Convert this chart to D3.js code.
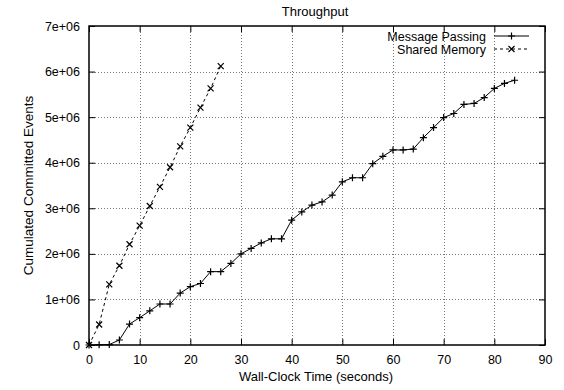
<!DOCTYPE html>
<html>
<head>
<meta charset="utf-8">
<script src="https://cdn.jsdelivr.net/npm/d3@7"></script>
<style>
  body { margin: 0; background: #fff; }
  text { font-family: "Liberation Sans", Arial, sans-serif; font-size: 12.5px; fill: #000; }
</style>
</head>
<body>
<div id="chart"></div>
<script>
// wall-clock seconds, sampled every 2 s
const mpTimes = d3.range(0, 85, 2);
const mpValues = [0, 5000, 10000, 110000, 460000, 600000, 750000, 900000, 900000, 1140000,
    1280000, 1350000, 1610000, 1610000, 1790000, 2000000, 2120000, 2240000, 2330000, 2330000,
    2740000, 2920000, 3070000, 3140000, 3290000, 3580000, 3670000, 3670000, 3980000, 4140000,
    4280000, 4280000, 4300000, 4550000, 4770000, 4990000, 5080000, 5280000, 5300000, 5430000,
    5630000, 5740000, 5810000];
const smTimes = d3.range(0, 27, 2);
const smValues = [0, 450000, 1330000, 1740000, 2210000, 2620000, 3050000, 3470000, 3900000,
    4360000, 4770000, 5210000, 5630000, 6120000];
const xTicks = d3.range(0, 91, 10);
const yTicks = d3.range(0, 7000001, 1000000);
const yTickLabels = ['0', '1e+06', '2e+06', '3e+06', '4e+06', '5e+06', '6e+06', '7e+06'];
const seriesNames = ['Message Passing', 'Shared Memory'];

const width = 564, height = 390;
const margin = { left: 89, right: 19, top: 26, bottom: 45 };

const svg = d3.select('#chart')
    .append('svg')
    .attr('width', width)
    .attr('height', height);

const x = d3.scaleLinear().domain([0, 90]).range([margin.left, width - margin.right]);
const y = d3.scaleLinear().domain([0, 7000000]).range([height - margin.bottom, margin.top]);

// grid
const grid = svg.append('g')
    .attr('stroke', '#777')
    .attr('stroke-width', 1)
    .attr('stroke-dasharray', '1,2');
grid.selectAll('line.gx')
    .data(xTicks.slice(1, -1))
    .enter().append('line')
    .attr('x1', d => Math.round(x(d)) + 0.5)
    .attr('x2', d => Math.round(x(d)) + 0.5)
    .attr('y1', y(0))
    .attr('y2', y(7000000));
grid.selectAll('line.gy')
    .data(yTicks.slice(1, -1))
    .enter().append('line')
    .attr('x1', x(0))
    .attr('x2', x(90))
    .attr('y1', d => Math.round(y(d)) + 0.5)
    .attr('y2', d => Math.round(y(d)) + 0.5);

// axes with inward ticks, mirrored
const tickLen = 6;
const axBottom = svg.append('g')
    .attr('transform', `translate(0,${y(0)})`)
    .call(d3.axisBottom(x).tickValues(xTicks).tickSizeInner(-tickLen).tickSizeOuter(0).tickPadding(10));
const axTop = svg.append('g')
    .attr('transform', `translate(0,${y(7000000)})`)
    .call(d3.axisTop(x).tickValues(xTicks).tickSizeInner(-tickLen).tickSizeOuter(0).tickFormat(''));
const axLeft = svg.append('g')
    .attr('transform', `translate(${x(0)},0)`)
    .call(d3.axisLeft(y).tickValues(yTicks).tickSizeInner(-tickLen).tickSizeOuter(0).tickPadding(9)
        .tickFormat((d, i) => yTickLabels[i]));
const axRight = svg.append('g')
    .attr('transform', `translate(${x(90)},0)`)
    .call(d3.axisRight(y).tickValues(yTicks).tickSizeInner(-tickLen).tickSizeOuter(0).tickFormat(''));
[axBottom, axTop, axLeft, axRight].forEach(a => {
    a.select('.domain').remove();
    a.selectAll('line').attr('stroke', '#000');
    a.selectAll('text').attr('font-family', null).attr('font-size', null);
});

svg.append('rect')
    .attr('x', x(0))
    .attr('y', y(7000000))
    .attr('width', x(90) - x(0))
    .attr('height', y(0) - y(7000000))
    .attr('fill', 'none')
    .attr('stroke', '#000')
    .attr('stroke-width', 1.5);

// titles
svg.append('text')
    .attr('x', 315).attr('y', 16)
    .attr('text-anchor', 'middle')
    .style('font-size', '13px')
    .text('Throughput');
svg.append('text')
    .attr('x', 316).attr('y', 381)
    .attr('text-anchor', 'middle')
    .style('font-size', '13px')
    .text('Wall-Clock Time (seconds)');
svg.append('text')
    .attr('transform', `translate(33,${(y(0) + y(7000000)) / 2}) rotate(-90)`)
    .attr('text-anchor', 'middle')
    .style('font-size', '13.5px')
    .text('Cumulated Committed Events');

const line = d3.line().x(d => x(d[0])).y(d => y(d[1]));
const mpData = mpTimes.map((t, i) => [t, mpValues[i]]);
const smData = smTimes.map((t, i) => [t, smValues[i]]);

function plusMark(g, cx, cy) {
    g.append('path')
        .attr('d', `M${cx - 3.5},${cy}H${cx + 3.5}M${cx},${cy - 3.5}V${cy + 3.5}`)
        .attr('stroke', '#000').attr('stroke-width', 1.2);
}
function crossMark(g, cx, cy) {
    g.append('path')
        .attr('d', `M${cx - 3},${cy - 3}L${cx + 3},${cy + 3}M${cx - 3},${cy + 3}L${cx + 3},${cy - 3}`)
        .attr('stroke', '#000').attr('stroke-width', 1.2);
}

svg.append('path')
    .datum(mpData)
    .attr('fill', 'none')
    .attr('stroke', '#000')
    .attr('stroke-width', 1)
    .attr('d', line);
svg.append('path')
    .datum(smData)
    .attr('fill', 'none')
    .attr('stroke', '#000')
    .attr('stroke-width', 1)
    .attr('stroke-dasharray', '3,3')
    .attr('d', line);

const marks = svg.append('g');
mpData.forEach(d => plusMark(marks, x(d[0]), y(d[1])));
smData.forEach(d => crossMark(marks, x(d[0]), y(d[1])));

// legend
const legend = svg.append('g');
seriesNames.forEach((name, i) => {
    const ly = 36 + i * 13;
    legend.append('text')
        .attr('x', 486).attr('y', ly + 4.5)
        .attr('text-anchor', 'end')
        .text(name);
    const seg = legend.append('line')
        .attr('x1', 494).attr('x2', 529)
        .attr('y1', ly).attr('y2', ly)
        .attr('stroke', '#000').attr('stroke-width', 1);
    if (i === 1) seg.attr('stroke-dasharray', '3,3');
    if (i === 0) plusMark(legend, 511.5, ly);
    else crossMark(legend, 511.5, ly);
});
</script>
</body>
</html>
